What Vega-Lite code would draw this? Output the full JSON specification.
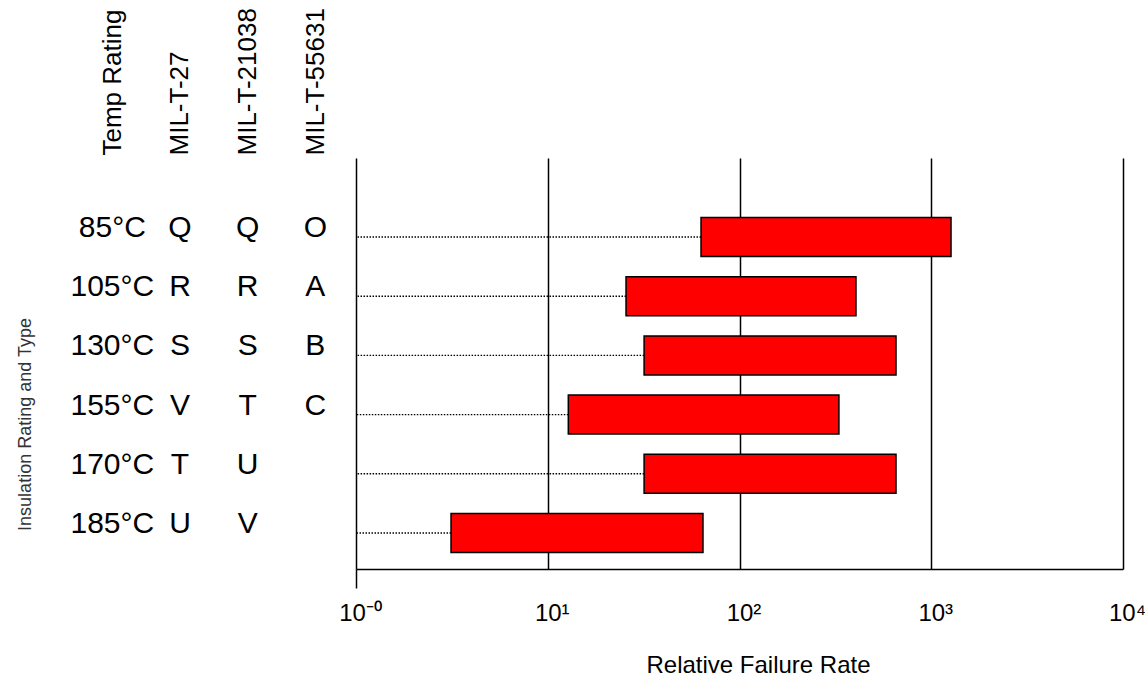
{
  "$schema": "https://vega.github.io/schema/vega-lite/v6.json",
  "background": "white",
  "padding": {"left": 16, "top": 7, "right": 3, "bottom": 3},
  "spacing": 0,
  "bounds": "flush",
  "config": {"view": {"stroke": null}, "font": "Liberation Sans"},
  "data": {
    "values": [
      {"Temp Rating": "85°C", "MIL-T-27": "Q", "MIL-T-21038": "Q", "MIL-T-55631": "O", "low": 63, "high": 1268},
      {"Temp Rating": "105°C", "MIL-T-27": "R", "MIL-T-21038": "R", "MIL-T-55631": "A", "low": 25.6, "high": 405},
      {"Temp Rating": "130°C", "MIL-T-27": "S", "MIL-T-21038": "S", "MIL-T-55631": "B", "low": 31.8, "high": 655},
      {"Temp Rating": "155°C", "MIL-T-27": "V", "MIL-T-21038": "T", "MIL-T-55631": "C", "low": 12.8, "high": 330},
      {"Temp Rating": "170°C", "MIL-T-27": "T", "MIL-T-21038": "U", "MIL-T-55631": "", "low": 31.8, "high": 655},
      {"Temp Rating": "185°C", "MIL-T-27": "U", "MIL-T-21038": "V", "MIL-T-55631": "", "low": 3.13, "high": 64.5}
    ]
  },
  "resolve": {"scale": {"y": "independent"}},
  "hconcat": [
    {
      "width": 310,
      "height": 411,
      "transform": [{"fold": ["Temp Rating", "MIL-T-27", "MIL-T-21038", "MIL-T-55631"], "as": ["column", "code"]}],
      "mark": {"type": "text", "fontSize": 30, "baseline": "alphabetic", "dy": 0, "align": "center", "color": "black"},
      "encoding": {
        "x": {
          "field": "column", "type": "nominal",
          "sort": ["Temp Rating", "MIL-T-27", "MIL-T-21038", "MIL-T-55631"],
          "scale": {"type": "point", "padding": 0.79, "align": 0.62},
          "axis": {"orient": "top", "title": null, "labelAngle": -90, "labelFontSize": 26, "labelPadding": 3, "domain": false, "ticks": false, "labelColor": "black"}
        },
        "y": {
          "field": "Temp Rating", "type": "nominal",
          "scale": {"type": "band", "domain": ["85°C", "105°C", "130°C", "155°C", "170°C", "185°C"], "paddingInner": 0.341, "paddingOuter": 0.642, "align": 0.783},
          "axis": {"title": "Insulation Rating and Type", "labels": false, "ticks": false, "domain": false, "titleFontSize": 18, "titleFontWeight": "normal", "titleColor": "#333", "titlePadding": 12, "titleY": 266}
        },
        "text": {"field": "code"}
      }
    },
    {
      "width": 767,
      "height": 411,
      "layer": [
        {
          "mark": {"type": "rule", "strokeDash": [1.5, 1.5], "color": "#000", "strokeWidth": 1.4},
          "encoding": {
            "x": {"field": "low", "type": "quantitative", "scale": {"type": "log", "domain": [1, 10000], "nice": false}},
            "x2": {"datum": 1},
            "y": {"field": "Temp Rating", "type": "nominal", "scale": {"type": "band", "domain": ["85°C", "105°C", "130°C", "155°C", "170°C", "185°C"], "paddingInner": 0.341, "paddingOuter": 0.642, "align": 0.783}, "axis": null}
          }
        },
        {
          "mark": {"type": "bar", "color": "#ff0000", "stroke": "black", "strokeWidth": 1.5},
          "encoding": {
            "x": {
              "field": "low", "type": "quantitative",
              "scale": {"type": "log", "domain": [1, 10000], "nice": false},
              "axis": {
                "values": [1, 10, 100, 1000, 10000],
                "title": "Relative Failure Rate", "titleFontSize": 24, "titleFontWeight": "normal", "titleColor": "black", "titlePadding": 28, "titleX": 402,
                "labelExpr": "datum.value == 1 ? '10⁻⁰' : datum.value == 10 ? '10¹' : datum.value == 100 ? '10²' : datum.value == 1000 ? '10³' : '10⁴'",
                "labelFontSize": 24, "labelColor": "black", "labelPadding": 13, "labelOffset": 4, "labelFlush": false, "labelOverlap": false, "labelBound": false,
                "grid": true, "gridColor": "black", "gridWidth": 1.5, "gridOpacity": 1,
                "domainColor": "black", "domainWidth": 1.5,
                "ticks": true, "tickSize": 19, "tickWidth": 1.5,
                "tickColor": {"condition": {"test": "datum.value == 1", "value": "black"}, "value": "transparent"}
              }
            },
            "x2": {"field": "high"},
            "y": {"field": "Temp Rating", "type": "nominal", "scale": {"type": "band", "domain": ["85°C", "105°C", "130°C", "155°C", "170°C", "185°C"], "paddingInner": 0.341, "paddingOuter": 0.642, "align": 0.783}, "axis": null}
          }
        }
      ]
    }
  ]
}
